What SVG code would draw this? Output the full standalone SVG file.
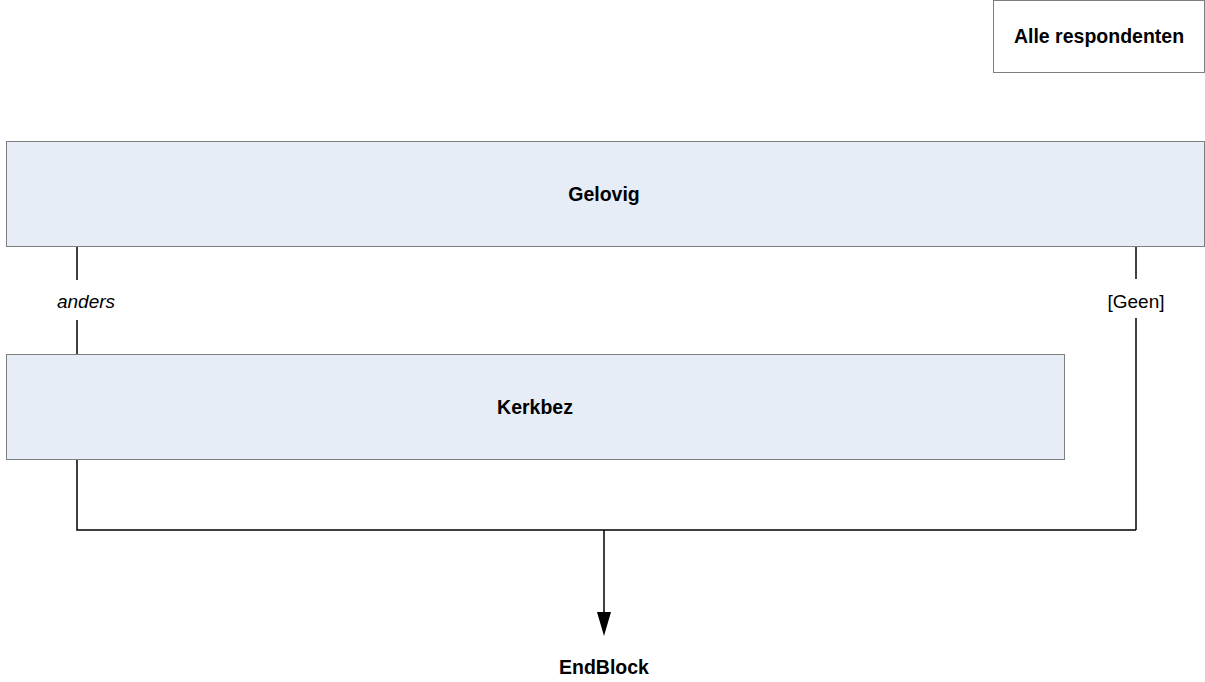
<svg xmlns="http://www.w3.org/2000/svg" width="1205" height="682" viewBox="0 0 1205 682">
<style>
.box{fill:#e7edf7;stroke:#7f7f7f;stroke-width:1}
.plain{fill:#ffffff;stroke:#7f7f7f;stroke-width:1}
.t{font-family:"Liberation Sans",Arial,sans-serif;font-size:19.5px;font-weight:bold;fill:#000;text-anchor:middle}
.l{font-family:"Liberation Sans",Arial,sans-serif;font-size:19px;fill:#000;text-anchor:middle}
.c{fill:none;stroke:#000;stroke-width:1.5}
</style>
<g id="alle">
<rect class="plain" x="993.5" y="0.5" width="211" height="72"/>
<text class="t" x="1099" y="43">Alle respondenten</text>
</g>
<g id="gelovig">
<rect class="box" x="6.5" y="141.5" width="1198" height="105"/>
<text class="t" x="604" y="201">Gelovig</text>
</g>
<g id="kerkbez">
<rect class="box" x="6.5" y="354.5" width="1058" height="105"/>
<text class="t" x="535" y="414">Kerkbez</text>
</g>
<g id="endblock">
<text class="t" x="604" y="674">EndBlock</text>
</g>
<g id="connectors">
<path class="c" d="M77,247 V280"/>
<path class="c" d="M77,320 V354"/>
<text class="l" x="86" y="308" font-style="italic">anders</text>
<path class="c" d="M1136,247 V279"/>
<path class="c" d="M1136,318 V530"/>
<text class="l" x="1136" y="308">[Geen]</text>
<path class="c" d="M77,460 V530 H1136"/>
<path d="M604,530 V612" stroke="#000" stroke-width="1.5"/>
<path d="M597,612 L611,612 L604,636 z" fill="#000"/>
</g>
</svg>
